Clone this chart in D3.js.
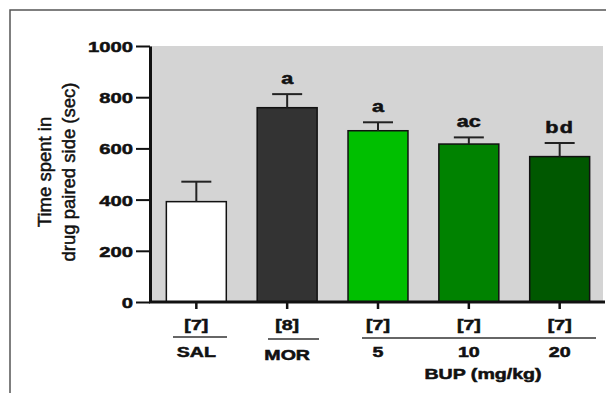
<!DOCTYPE html>
<html>
<head>
<meta charset="utf-8">
<script src="https://cdn.jsdelivr.net/npm/d3@7"></script>
<style>
  body { margin: 0; background: #fff; }
  svg { display: block; font-family: "Liberation Sans", Arial, sans-serif; }
</style>
</head>
<body>
<div class="chart"></div>
<script>
// values
var groups = ["SAL", "MOR", "5", "10", "20"];
var means = [392, 759, 669, 617, 568];
var sems = [78, 53, 33, 26, 53];
var nLabels = ["[7]", "[8]", "[7]", "[7]", "[7]"];
var sigLetters = ["", "a", "a", "ac", "bd"];
var fills = ["#ffffff", "#333333", "#00bf00", "#008200", "#005800"];
var yTicks = [0, 200, 400, 600, 800, 1000];

var width = 606, height = 393;
var plotL = 150, plotR = 606, plotT = 46, plotB = 302;
var sx = 1.4; // the figure's lettering is wide

var svg = d3.select("div.chart").append("svg")
  .attr("width", width)
  .attr("height", height);

// frame of the cropped figure
svg.append("path")
  .attr("d", "M10," + height + "V10H" + width)
  .attr("fill", "none")
  .attr("stroke", "#555")
  .attr("stroke-width", 1.5);

var x = d3.scaleBand().domain(groups).range([plotL, plotR])
  .paddingInner(0.34).paddingOuter(0.18);
var y = d3.scaleLinear().domain([0, 1000]).range([plotB, plotT]);

function wideText(g, px, py, str, size, anchor, k) {
  return g.append("text")
    .attr("transform", "translate(" + px + "," + py + ") scale(" + (k || sx) + ",1)")
    .attr("text-anchor", anchor || "middle")
    .style("font-size", size + "px")
    .style("font-weight", "bold")
    .attr("fill", "#111")
    .attr("stroke", "#111")
    .attr("stroke-width", 0.5)
    .text(str);
}

// grey plot background
svg.append("rect")
  .attr("x", plotL).attr("y", y(1000))
  .attr("width", 603 - plotL).attr("height", y(0) - y(1000))
  .attr("fill", "#d4d4d4");

// bars
svg.append("g").selectAll("rect")
  .data(groups)
  .enter().append("rect")
  .attr("x", d => x(d))
  .attr("y", (d, i) => y(means[i]))
  .attr("width", x.bandwidth())
  .attr("height", (d, i) => y(0) - y(means[i]))
  .attr("fill", (d, i) => fills[i])
  .attr("stroke", "#111")
  .attr("stroke-width", 1.5);

// error bars (upper only)
var err = svg.append("g").attr("stroke", "#222").attr("stroke-width", 2);
groups.forEach(function(d, i) {
  var cx = x(d) + x.bandwidth() / 2;
  err.append("line")
    .attr("x1", cx).attr("x2", cx)
    .attr("y1", y(means[i])).attr("y2", y(means[i] + sems[i]));
  err.append("line")
    .attr("x1", cx - 15).attr("x2", cx + 15)
    .attr("y1", y(means[i] + sems[i])).attr("y2", y(means[i] + sems[i]));
  if (sigLetters[i]) {
    wideText(svg, cx, y(means[i] + sems[i]) - 10, sigLetters[i], 16, "middle", 1.35)
      .style("letter-spacing", sigLetters[i] == "bd" ? "1px" : "0px");
  }
});

// y axis
var yAxis = svg.append("g")
  .attr("transform", "translate(" + plotL + ",0)")
  .call(d3.axisLeft(y).tickValues(yTicks).tickSize(14).tickSizeOuter(0).tickFormat(""));
yAxis.select(".domain").attr("stroke", "#111").attr("stroke-width", 3);
yAxis.selectAll(".tick line").attr("stroke", "#111").attr("stroke-width", 2);
yAxis.selectAll(".tick").each(function(d) {
  wideText(d3.select(this), -17, 5.5, d, 15, "end", 1.35);
});

// x axis
svg.append("line")
  .attr("x1", plotL - 1).attr("x2", 605)
  .attr("y1", plotB).attr("y2", plotB)
  .attr("stroke", "#111").attr("stroke-width", 3);
var xAxis = svg.append("g")
  .attr("transform", "translate(0," + plotB + ")")
  .call(d3.axisBottom(x).tickSize(7).tickSizeOuter(0).tickFormat(""));
xAxis.select(".domain").remove();
xAxis.selectAll(".tick line").attr("stroke", "#111").attr("stroke-width", 2.5);

// group sizes and names under the axis
groups.forEach(function(d, i) {
  var cx = x(d) + x.bandwidth() / 2;
  wideText(svg, cx, 330, nLabels[i], 14);
  wideText(svg, cx, d == "MOR" ? 360 : 357, d, 14);
});

var rules = svg.append("g").attr("stroke", "#333").attr("stroke-width", 1.5);
rules.append("line").attr("x1", 173).attr("x2", 227).attr("y1", 337).attr("y2", 337);
rules.append("line").attr("x1", 268).attr("x2", 319).attr("y1", 339).attr("y2", 339);
rules.append("line").attr("x1", 362).attr("x2", 596).attr("y1", 338).attr("y2", 338);

wideText(svg, 483, 379, "BUP (mg/kg)", 14);

// y axis title
var yt = svg.append("text")
  .attr("transform", "translate(51,172) rotate(-90)")
  .attr("text-anchor", "middle")
  .style("font-size", "18.5px")
  .attr("fill", "#111")
  .attr("stroke", "#111")
  .attr("stroke-width", 0.5);
yt.append("tspan").attr("x", 0).attr("y", 0).text("Time spent in");
yt.append("tspan").attr("x", 0).attr("y", 24).text("drug paired side (sec)");
</script>
</body>
</html>
